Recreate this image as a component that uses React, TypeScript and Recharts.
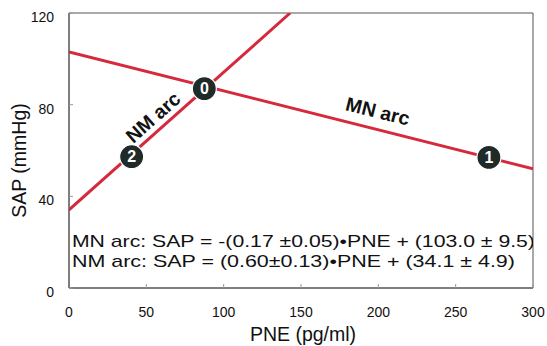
import React from "react";
import {
  ComposedChart,
  Line,
  Scatter,
  XAxis,
  YAxis,
  ReferenceArea,
  Label,
} from "recharts";

const xTicks = [0, 50, 100, 150, 200, 250, 300];
const yTicks = [0, 40, 80, 120];

const mnArc = [
  { x: 0, y: 103.0 },
  { x: 300, y: 52.0 },
];
const nmArc = [
  { x: 0, y: 34.1 },
  { x: 143, y: 120 },
];
const markers = [
  { x: 87.5, y: 87, label: "0" },
  { x: 271.5, y: 57, label: "1" },
  { x: 40.5, y: 57.3, label: "2" },
];
const arcLabels = [
  { x: 54.3, y: 74.6, label: "NM arc", angle: -41.6 },
  { x: 199.7, y: 77.2, label: "MN arc", angle: 14 },
];
const equations = [
  { x: 1.9, y: 17.9, len: 463, label: "MN arc: SAP = -(0.17 \u00B10.05)\u2022PNE + (103.0 \u00B1 9.5)" },
  { x: 1.9, y: 9.2, len: 443, label: "NM arc: SAP = (0.60\u00B10.13)\u2022PNE  + (34.1 \u00B1 4.9)" },
];

const FONT = "'Liberation Sans', Arial, sans-serif";
const RED = "#d52a3e";

const MarkerShape = (props: any) => {
  const { cx, cy, payload } = props;
  return (
    <g>
      <circle cx={cx} cy={cy} r={12} fill="#1f2b29" stroke="#ffffff" strokeWidth={1.2} />
      <text
        x={cx}
        y={cy}
        dy="0.36em"
        textAnchor="middle"
        fill="#ffffff"
        fontFamily={FONT}
        fontWeight="bold"
        fontSize={16}
      >
        {payload.label}
      </text>
    </g>
  );
};

const ArcLabelShape = (props: any) => {
  const { cx, cy, payload } = props;
  return (
    <text
      x={cx}
      y={cy}
      dy="0.36em"
      textAnchor="middle"
      fill="#111"
      fontFamily={FONT}
      fontWeight="bold"
      fontSize={19.5}
      transform={`rotate(${payload.angle} ${cx} ${cy})`}
    >
      {payload.label}
    </text>
  );
};

const EquationShape = (props: any) => {
  const { cx, cy, payload } = props;
  return (
    <text
      x={cx}
      y={cy}
      textAnchor="start"
      fill="#111"
      fontFamily={FONT}
      fontSize={17}
      textLength={payload.len}
      lengthAdjust="spacingAndGlyphs"
    >
      {payload.label}
    </text>
  );
};

export default function App() {
  return (
    <div style={{ position: "absolute", left: 0, top: 0, background: "#fff" }}>
      <ComposedChart
        width={547}
        height={346}
        margin={{ top: 13, right: 14, bottom: 0, left: 0 }}
        style={{ fontFamily: FONT }}
      >
        <XAxis
          type="number"
          dataKey="x"
          domain={[0, 300]}
          ticks={xTicks}
          allowDataOverflow
          height={58}
          tickSize={-4}
          tickMargin={23}
          axisLine={{ stroke: "#555" }}
          tickLine={{ stroke: "#999" }}
          tick={{ fontSize: 14, fill: "#111", fontFamily: FONT }}
        >
          <Label
            content={(p: any) => {
              const vb = p.viewBox;
              return (
                <text
                  x={vb.x + vb.width / 2 + 2}
                  y={vb.y + vb.height - 5}
                  textAnchor="middle"
                  fontSize={19.5}
                  fill="#111"
                  fontFamily={FONT}
                >
                  PNE (pg/ml)
                </text>
              );
            }}
          />
        </XAxis>
        <YAxis
          type="number"
          dataKey="y"
          domain={[0, 120]}
          ticks={yTicks}
          allowDataOverflow
          width={69}
          tickSize={-4}
          tickMargin={19}
          axisLine={{ stroke: "#555" }}
          tickLine={{ stroke: "#999" }}
          tick={{ fontSize: 14, fill: "#111", fontFamily: FONT, dy: 4 }}
        >
          <Label
            content={(p: any) => {
              const vb = p.viewBox;
              const cx = vb.x + 26;
              const cy = vb.y + vb.height / 2 + 10;
              return (
                <text
                  x={cx}
                  y={cy}
                  textAnchor="middle"
                  fontSize={19.5}
                  fill="#111"
                  fontFamily={FONT}
                  transform={`rotate(-90 ${cx} ${cy})`}
                >
                  SAP (mmHg)
                </text>
              );
            }}
          />
        </YAxis>
        <ReferenceArea x1={0} x2={300} y1={0} y2={120} fill="none" stroke="#555" strokeWidth={1} />
        <Line
          data={mnArc}
          dataKey="y"
          type="linear"
          stroke={RED}
          strokeWidth={3}
          dot={false}
          activeDot={false}
          isAnimationActive={false}
        />
        <Line
          data={nmArc}
          dataKey="y"
          type="linear"
          stroke={RED}
          strokeWidth={3}
          dot={false}
          activeDot={false}
          isAnimationActive={false}
        />
        <Scatter data={arcLabels} dataKey="y" shape={<ArcLabelShape />} isAnimationActive={false} />
        <Scatter data={markers} dataKey="y" shape={<MarkerShape />} isAnimationActive={false} />
        <Scatter data={equations} dataKey="y" shape={<EquationShape />} isAnimationActive={false} />
      </ComposedChart>
    </div>
  );
}
